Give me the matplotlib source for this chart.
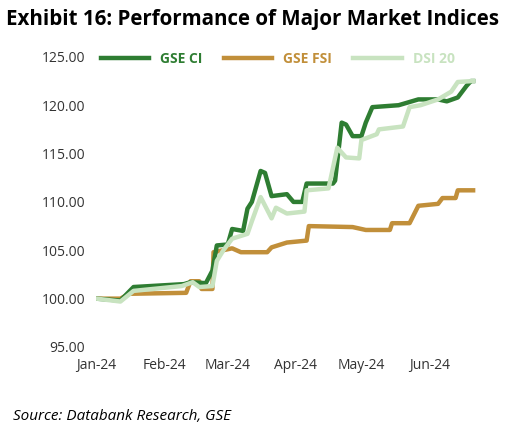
import matplotlib
matplotlib.use("Agg")
import matplotlib.pyplot as plt

month_ticks = [0, 31, 60, 91, 121, 152]
month_labels = ["Jan-24", "Feb-24", "Mar-24", "Apr-24", "May-24", "Jun-24"]

ci_days = [0, 11, 17, 40, 43, 50, 53, 55, 60, 62, 67, 69, 71, 75, 77, 80, 87, 90, 94, 96, 108, 109, 112, 114, 117, 121, 123, 126, 138, 147, 156, 160, 165, 169, 171, 172]
ci_vals = [100, 99.8, 101.2, 101.5, 101.7, 101.6, 102.9, 105.5, 105.6, 107.2, 107, 109.3, 110, 113.2, 113, 110.6, 110.8, 110, 110, 111.9, 111.9, 112.2, 118.2, 118, 116.8, 116.8, 118.2, 119.8, 120, 120.6, 120.6, 120.4, 120.8, 122, 122.5, 122.5]

fsi_days = [0, 11, 15, 41, 43, 47, 48, 53, 53.5, 62, 66, 78, 80, 87, 96, 97, 117, 123, 134, 135, 143, 147, 156, 158, 164, 165, 172]
fsi_vals = [100, 100, 100.5, 100.6, 101.8, 101.8, 101, 101, 104.8, 105.2, 104.8, 104.8, 105.3, 105.8, 106, 107.5, 107.4, 107.1, 107.1, 107.8, 107.8, 109.6, 109.8, 110.4, 110.4, 111.2, 111.2]

dsi_days = [0, 11, 17, 39, 44, 47, 53, 55, 58, 62, 69, 71, 75, 80, 82, 87, 95, 96, 106, 110, 114, 120, 121, 128, 129, 140, 143, 148, 156, 162, 165, 172]
dsi_vals = [100, 99.7, 100.8, 101.3, 101.7, 101.2, 101.3, 103.9, 105, 106.2, 106.7, 108, 110.5, 108.3, 109.4, 108.8, 109, 111.2, 111.4, 115.6, 114.6, 114.5, 116.4, 117, 117.5, 117.8, 119.8, 120, 120.6, 121.4, 122.4, 122.5]

plt.rcParams['font.family'] = ['Open Sans', 'DejaVu Sans']
fig = plt.figure(figsize=(5.07, 4.34), dpi=100)
ax = fig.add_axes([0.19, 0.2005, 0.795, 0.6685])
ax.plot(ci_days, ci_vals, color="#2e7d32", lw=3.2, label="GSE CI", zorder=3)
ax.plot(fsi_days, fsi_vals, color="#c18f3a", lw=3.2, label="GSE FSI", zorder=2)
ax.plot(dsi_days, dsi_vals, color="#c8e3c0", lw=3.2, label="DSI 20", zorder=4)
ax.set_xlim(0, 184)
ax.set_ylim(95, 125)
ax.set_yticks([95, 100, 105, 110, 115, 120, 125])
ax.set_yticklabels([f"{v:.2f}" for v in [95, 100, 105, 110, 115, 120, 125]], fontsize=10, color="#333333")
ax.set_xticks(month_ticks)
ax.set_xticklabels(month_labels, fontsize=10, color="#333333")
ax.tick_params(length=0, pad=8)
for s in ax.spines.values():
    s.set_visible(False)
leg = ax.legend(loc="upper left", bbox_to_anchor=(-0.02, 1.06), ncol=3, frameon=False,
                handlelength=3.5, columnspacing=1.5, prop={'weight': 'bold', 'size': 10})
for t, c in zip(leg.get_texts(), ["#2e7d32", "#c18f3a", "#c8e3c0"]):
    t.set_color(c)
fig.text(0.012, 0.955, "Exhibit 16: Performance of Major Market Indices", fontsize=14.8, fontweight="bold", va="center")
fig.text(0.025, 0.04, "Source: Databank Research, GSE", fontsize=11, style="italic", va="center")
fig.savefig("out.png", dpi=100)
